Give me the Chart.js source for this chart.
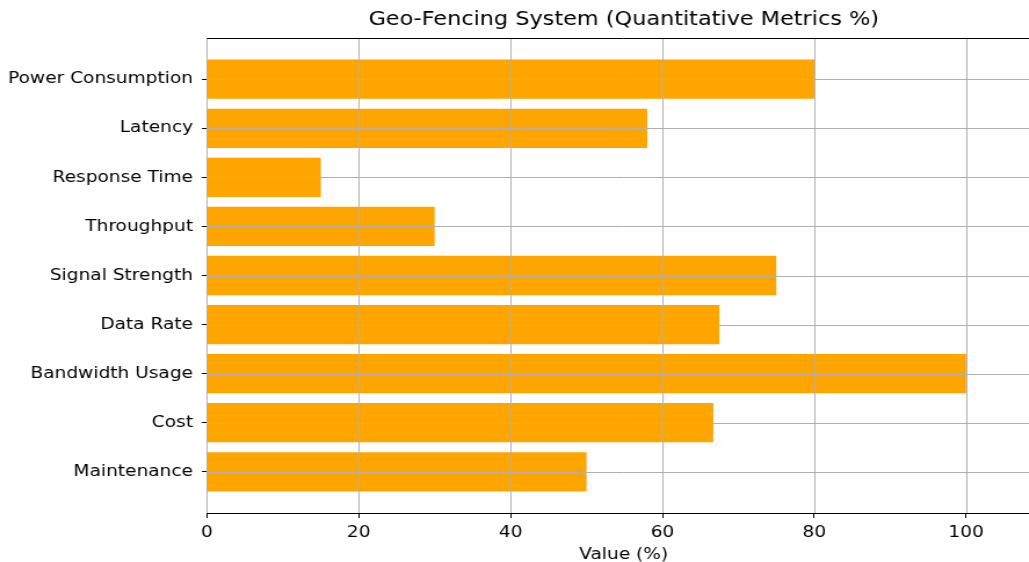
<!DOCTYPE html>
<html>
<head>
<meta charset="utf-8">
<script src="https://cdn.jsdelivr.net/npm/chart.js@4"></script>
<style>
  html, body { margin: 0; padding: 0; background: #fff; overflow: hidden; width: 1029px; height: 562px; }
  /* l'image de référence est étirée horizontalement (~1.16) */
  #wrap { width: 897px; height: 564px; transform: scaleX(1.16); transform-origin: 0 0; }
</style>
</head>
<body>
<div id="wrap"><canvas id="graphique"></canvas></div>
<script>
// données du graphique (haut vers bas)
const categories = ['Power Consumption', 'Latency', 'Response Time', 'Throughput', 'Signal Strength',
  'Data Rate', 'Bandwidth Usage', 'Cost', 'Maintenance'];
const valeurs = [80, 58, 15, 30, 75, 67.5, 100, 66.7, 50];
const xTicks = [0, 20, 40, 60, 80, 100];
const titre = 'Geo-Fencing System (Quantitative Metrics %)';

const police = 'DejaVu Sans';
const couleurGrille = '#b0b0b0';

// grille + cadre par-dessus les barres, et titre centré sur la zone de tracé
const grilleDessus = {
  id: 'grilleDessus',
  afterDatasetsDraw(chart) {
    const { ctx, chartArea, scales } = chart;
    ctx.save();
    ctx.strokeStyle = couleurGrille;
    ctx.lineWidth = 1;
    xTicks.forEach(v => {
      const x = Math.round(scales.x.getPixelForValue(v)) + 0.5;
      ctx.beginPath();
      ctx.moveTo(x, chartArea.top);
      ctx.lineTo(x, chartArea.bottom);
      ctx.stroke();
    });
    categories.forEach((c, i) => {
      const y = Math.round(scales.y.getPixelForValue(i)) + 0.5;
      ctx.beginPath();
      ctx.moveTo(chartArea.left, y);
      ctx.lineTo(chartArea.right, y);
      ctx.stroke();
    });
    // cadre du haut
    ctx.strokeStyle = '#000';
    ctx.beginPath();
    ctx.moveTo(chartArea.left, chartArea.top + 0.5);
    ctx.lineTo(chartArea.right, chartArea.top + 0.5);
    ctx.stroke();
    ctx.restore();
  },
  afterDraw(chart) {
    const { ctx, chartArea } = chart;
    ctx.save();
    ctx.fillStyle = '#000';
    ctx.font = '19.3px "' + police + '"';
    ctx.textAlign = 'center';
    ctx.textBaseline = 'middle';
    ctx.fillText(titre, (chartArea.left + chartArea.right) / 2, 20);
    ctx.restore();
  }
};

const ctx = document.getElementById('graphique').getContext('2d');
var monGraphique = new Chart(ctx, {
  type: 'bar',
  data: {
    datasets: [{
      label: 'Value (%)',
      data: valeurs.map((v, i) => ({ x: v, y: i })),
      backgroundColor: '#ffa500',
      borderWidth: 0,
      barPercentage: 0.8,
      categoryPercentage: 1
    }]
  },
  options: {
    indexAxis: 'y',
    responsive: true,
    maintainAspectRatio: false,
    animation: false,
    layout: { padding: { top: 38, left: 0, right: 0, bottom: 0 } },
    plugins: {
      legend: { display: false },
      tooltip: { enabled: false },
      title: { display: false }
    },
    scales: {
      x: {
        type: 'linear',
        min: 0,
        max: 109.8,
        afterBuildTicks: scale => { scale.ticks = xTicks.map(v => ({ value: v })); },
        afterFit: scale => { scale.height = 51; },
        grid: { drawOnChartArea: false, color: '#000', tickColor: '#000', tickLength: 5 },
        border: { color: '#000', width: 1 },
        ticks: { color: '#000', font: { family: police, size: 16 }, padding: 5, maxRotation: 0 },
        title: { display: true, text: 'Value (%)', color: '#000', font: { family: police, size: 16 }, padding: { top: 2, bottom: 0 } }
      },
      y: {
        type: 'linear',
        reverse: true,
        offset: false,
        min: -0.84,
        max: 8.84,
        afterBuildTicks: scale => { scale.ticks = categories.map((c, i) => ({ value: i })); },
        afterFit: scale => { scale.width = 178.4; },
        grid: { drawOnChartArea: false, offset: false, color: '#000', tickColor: '#000', tickLength: 4.3 },
        border: { color: '#000', width: 1 },
        ticks: {
          color: '#000',
          font: { family: police, size: 16 },
          padding: 7.7,
          callback: v => categories[v] ?? ''
        }
      }
    }
  },
  plugins: [grilleDessus]
});
</script>
</body>
</html>
